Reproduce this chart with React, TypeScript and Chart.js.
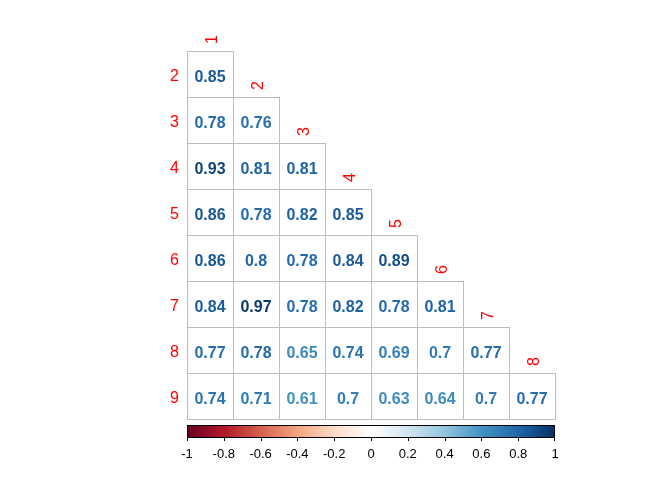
import React, { useEffect, useRef } from "react";
import { Chart, registerables } from "chart.js";

Chart.register(...registerables);

// Lower-triangle correlation matrix (rows 2..9, columns 1..8)
const rowLabels = ["2", "3", "4", "5", "6", "7", "8", "9"];
const colLabels = ["1", "2", "3", "4", "5", "6", "7", "8"];
const row2 = [0.85];
const row3 = [0.78, 0.76];
const row4 = [0.93, 0.81, 0.81];
const row5 = [0.86, 0.78, 0.82, 0.85];
const row6 = [0.86, 0.8, 0.78, 0.84, 0.89];
const row7 = [0.84, 0.97, 0.78, 0.82, 0.78, 0.81];
const row8 = [0.77, 0.78, 0.65, 0.74, 0.69, 0.7, 0.77];
const row9 = [0.74, 0.71, 0.61, 0.7, 0.63, 0.64, 0.7, 0.77];
const corrRows = [row2, row3, row4, row5, row6, row7, row8, row9];

const colorbarTicks = [-1, -0.8, -0.6, -0.4, -0.2, 0, 0.2, 0.4, 0.6, 0.8, 1];
const colorbarTickLabels = ["-1", "-0.8", "-0.6", "-0.4", "-0.2", "0", "0.2", "0.4", "0.6", "0.8", "1"];
const paletteStops = ["#67001F", "#B2182B", "#D6604D", "#F4A582", "#FDDBC7", "#FFFFFF", "#D1E5F0", "#92C5DE", "#4393C3", "#2166AC", "#053061"];

const FONT = '"Liberation Sans", Arial, sans-serif';

function hexToRgb(h: string) {
  return [parseInt(h.slice(1, 3), 16), parseInt(h.slice(3, 5), 16), parseInt(h.slice(5, 7), 16)];
}
function colorFor(v: number) {
  const t = ((v + 1) / 2) * (paletteStops.length - 1);
  const i = Math.min(paletteStops.length - 2, Math.max(0, Math.floor(t)));
  const f = t - i;
  const a = hexToRgb(paletteStops[i]);
  const b = hexToRgb(paletteStops[i + 1]);
  const c = a.map((x, k) => Math.round(x + (b[k] - x) * f));
  return `rgb(${c[0]},${c[1]},${c[2]})`;
}

const corrPlugin = {
  id: "corrplot",
  afterDatasetsDraw(chart: any) {
    const ctx = chart.ctx as CanvasRenderingContext2D;
    const xs = chart.scales.x;
    const ys = chart.scales.y;
    ctx.save();
    // cells
    corrRows.forEach((vals, ri) => {
      const r = ri + 2;
      vals.forEach((v, ci) => {
        const c = ci + 1;
        const x0 = Math.round(xs.getPixelForValue(c - 0.5)) + 0.5;
        const x1 = Math.round(xs.getPixelForValue(c + 0.5)) + 0.5;
        const y0 = Math.round(ys.getPixelForValue(r - 0.5)) + 0.5;
        const y1 = Math.round(ys.getPixelForValue(r + 0.5)) + 0.5;
        ctx.fillStyle = "#FFFFFF";
        ctx.fillRect(x0, y0, x1 - x0, y1 - y0);
        ctx.strokeStyle = "#BEBEBE";
        ctx.lineWidth = 1;
        ctx.strokeRect(x0, y0, x1 - x0, y1 - y0);
      });
    });
    // numbers
    ctx.font = `bold 16px ${FONT}`;
    ctx.textAlign = "center";
    ctx.textBaseline = "alphabetic";
    corrRows.forEach((vals, ri) => {
      const r = ri + 2;
      vals.forEach((v, ci) => {
        const c = ci + 1;
        ctx.fillStyle = colorFor(v);
        ctx.fillText(String(v), xs.getPixelForValue(c), ys.getPixelForValue(r) + 8);
      });
    });
    // row labels
    ctx.font = `16px ${FONT}`;
    ctx.fillStyle = "#FF0000";
    ctx.textAlign = "right";
    rowLabels.forEach((lab, ri) => {
      ctx.fillText(lab, xs.getPixelForValue(0.5) - 8, ys.getPixelForValue(ri + 2) + 7);
    });
    // column labels (rotated)
    ctx.textAlign = "left";
    colLabels.forEach((lab, ci) => {
      const c = ci + 1;
      const top = ys.getPixelForValue(c + 1 - 0.5);
      ctx.save();
      ctx.translate(xs.getPixelForValue(c) + 7, top - 7);
      ctx.rotate(-Math.PI / 2);
      ctx.fillText(lab, 0, 0);
      ctx.restore();
    });
    // color bar
    const cbx = (v: number) => xs.getPixelForValue(0.5 + ((v + 1) / 2) * 8);
    const bl = Math.round(cbx(-1));
    const br = Math.round(cbx(1));
    const bt = Math.round(ys.getPixelForValue(9.5)) + 6;
    const bb = bt + 12;
    const grad = ctx.createLinearGradient(bl, 0, br, 0);
    paletteStops.forEach((s, i) => grad.addColorStop(i / (paletteStops.length - 1), s));
    ctx.fillStyle = grad;
    ctx.fillRect(bl, bt, br - bl, bb - bt);
    ctx.strokeStyle = "#000000";
    ctx.lineWidth = 1;
    ctx.strokeRect(bl + 0.5, bt + 0.5, br - bl - 1, bb - bt);
    ctx.beginPath();
    colorbarTicks.forEach((t) => {
      const px = Math.round(cbx(t)) + (t === 1 ? -0.5 : 0.5);
      ctx.moveTo(px, bb);
      ctx.lineTo(px, bb + 4);
    });
    ctx.stroke();
    ctx.font = `13px ${FONT}`;
    ctx.fillStyle = "#000000";
    ctx.textAlign = "center";
    colorbarTicks.forEach((t, i) => {
      ctx.fillText(colorbarTickLabels[i], cbx(t), bb + 21);
    });
    ctx.restore();
  },
};

export default function App() {
  const ref = useRef<HTMLCanvasElement | null>(null);
  useEffect(() => {
    if (!ref.current) return;
    const points: { x: number; y: number }[] = [];
    corrRows.forEach((vals, ri) => vals.forEach((_, ci) => points.push({ x: ci + 1, y: ri + 2 })));
    const chart = new Chart(ref.current, {
      type: "scatter",
      data: { datasets: [{ data: points, pointRadius: 0, pointHoverRadius: 0 }] },
      options: {
        animation: false,
        responsive: true,
        maintainAspectRatio: false,
        layout: { padding: { left: 187, right: 117, top: 51, bottom: 61 } },
        plugins: { legend: { display: false }, tooltip: { enabled: false } },
        scales: {
          x: { type: "linear", min: 0.5, max: 8.5, display: false },
          y: { type: "linear", min: 1.5, max: 9.5, reverse: true, display: false },
        },
      },
      plugins: [corrPlugin],
    });
    return () => chart.destroy();
  }, []);
  return (
    <div style={{ position: "absolute", left: 0, top: 0, width: 672, height: 480, background: "#fff" }}>
      <canvas ref={ref} />
    </div>
  );
}
